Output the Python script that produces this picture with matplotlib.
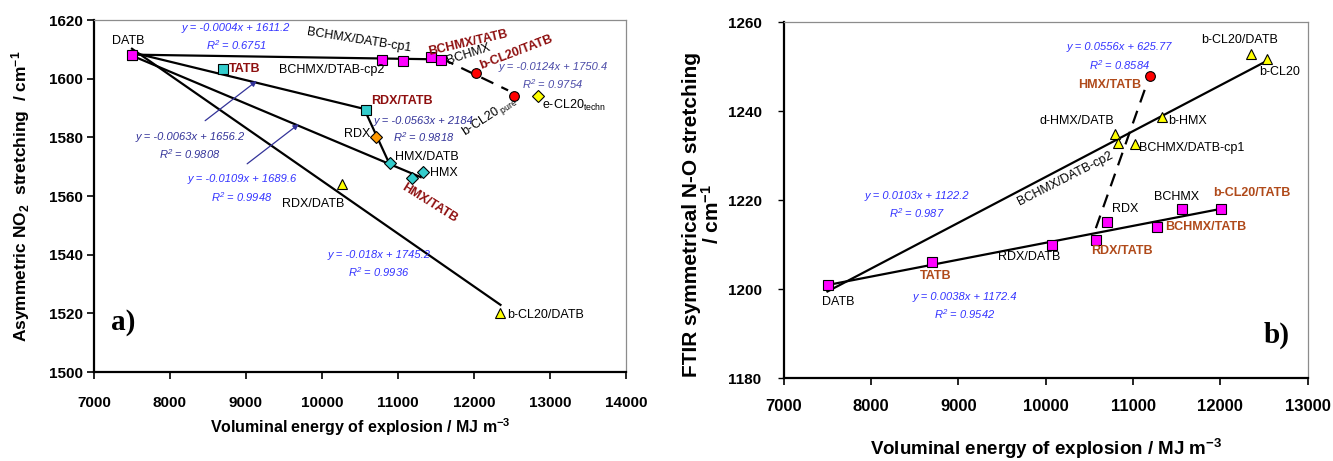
import numpy as np
import matplotlib
matplotlib.use('Agg')
import matplotlib.pyplot as plt

plt.rcParams['font.family'] = ['Liberation Sans', 'DejaVu Sans']
plt.rcParams['mathtext.default'] = 'regular'

# ---- panel a) : asymmetric NO2 stretching ----
a_mag_sq_x = [7500, 10790, 11070, 11440, 11570]
a_mag_sq_y = [1608.0, 1606.2, 1606.0, 1607.3, 1606.2]
a_cyan_sq_x = [8700, 10580]
a_cyan_sq_y = [1603.4, 1589.3]
a_cyan_dia_x = [10890, 11330, 11190]
a_cyan_dia_y = [1571.3, 1568.3, 1566.0]
a_orange_dia_x = [10710]
a_orange_dia_y = [1580.0]
a_yel_tri_x = [7500, 10270, 12350]
a_yel_tri_y = [1608.0, 1564.0, 1520.0]
a_red_x = [12030, 12530]
a_red_y = [1602.1, 1594.0]
a_yel_dia_x = [12850]
a_yel_dia_y = [1594.0]

# trend lines: y = slope*x + icpt, drawn between x0 and x1
a_slope = [-0.0004, -0.0063, -0.0109, -0.018, -0.0563, -0.0124]
a_icpt = [1611.2, 1656.2, 1689.6, 1745.2, 2184, 1750.4]
a_x0 = [7500, 7500, 7500, 7500, 10580, 11570]
a_x1 = [11570, 10580, 11300, 12350, 10890, 12450]
a_dashed = [False, False, False, False, False, True]

# ---- panel b) : symmetrical N-O stretching ----
b_sq_x = [7507, 8700, 10070, 10580, 10700, 11270, 11560, 12010]
b_sq_y = [1201.0, 1206.1, 1210.0, 1211.1, 1215.1, 1213.9, 1217.9, 1217.9]
b_tri_x = [12350, 12535, 11335, 10794, 10826, 11019]
b_tri_y = [1252.9, 1251.8, 1238.7, 1234.9, 1232.8, 1232.7]
b_red_x = [11194]
b_red_y = [1248.0]

b_slope = [0.0103, 0.0038, 0.0556]
b_icpt = [1122.2, 1172.4, 625.77]
b_x0 = [7500, 7500, 10574]
b_x1 = [12530, 12010, 11145]
b_dashed = [False, False, True]

DRED = '#8e0f0f'
BROWN = '#b04a1a'
BLUE = '#3333ff'
NAVY = '#333399'

fig = plt.figure(figsize=(13.33, 4.61), dpi=100)
ax1 = fig.add_axes([0.0705, 0.193, 0.399, 0.7636])
ax2 = fig.add_axes([0.588, 0.180, 0.393, 0.772])


def style_axes(ax):
    for s in ['left', 'bottom']:
        ax.spines[s].set_linewidth(1.6)
        ax.spines[s].set_color('black')
    for s in ['top', 'right']:
        ax.spines[s].set_linewidth(0.9)
        ax.spines[s].set_color('#8c8c8c')
    for lab in ax.get_xticklabels() + ax.get_yticklabels():
        lab.set_fontweight('bold')


def fit_lines(ax, slope, icpt, x0, x1, dashed):
    for k, d, a, b, ds in zip(slope, icpt, x0, x1, dashed):
        xs = np.array([a, b])
        ls = (0, (6, 4)) if ds else '-'
        ax.plot(xs, k * xs + d, color='black', lw=1.6, ls=ls, zorder=2)


mk = dict(ls='none', mec='black', mew=0.8, zorder=3)

# ---------- panel a ----------
fit_lines(ax1, a_slope, a_icpt, a_x0, a_x1, a_dashed)
ax1.plot(a_yel_tri_x, a_yel_tri_y, marker='^', ms=7, mfc='#ffff00', **mk)
ax1.plot(a_mag_sq_x, a_mag_sq_y, marker='s', ms=7, mfc='#ff00ff', **mk)
ax1.plot(a_cyan_sq_x, a_cyan_sq_y, marker='s', ms=7, mfc='#33cccc', **mk)
ax1.plot(a_cyan_dia_x, a_cyan_dia_y, marker='D', ms=6, mfc='#33cccc', **mk)
ax1.plot(a_orange_dia_x, a_orange_dia_y, marker='D', ms=6, mfc='#ff9900', **mk)
ax1.plot(a_red_x, a_red_y, marker='o', ms=7, mfc='#ff0000', **mk)
ax1.plot(a_yel_dia_x, a_yel_dia_y, marker='D', ms=6, mfc='#ffff00', **mk)

ax1.set_xlim(7000, 14000)
ax1.set_ylim(1500, 1620)
ax1.set_xticks(np.arange(7000, 14001, 1000))
ax1.set_yticks(np.arange(1500, 1621, 20))
ax1.tick_params(axis='x', direction='out', length=5, width=1.2, pad=12, labelsize=11)
ax1.tick_params(axis='y', direction='out', length=5, width=1.2, pad=3, labelsize=11)
style_axes(ax1)
ax1.set_xlabel('Voluminal energy of explosion / MJ m$^{-3}$', fontsize=11.5, fontweight='bold')
ax1.xaxis.set_label_coords(0.5, -0.158)
ax1.xaxis.label.set_va('center')
ax1.set_ylabel('Asymmetric NO$_{2}$  stretching  / cm$^{-1}$', fontsize=12.5, fontweight='bold')
ax1.yaxis.set_label_coords(-0.138, 0.5)
ax1.yaxis.label.set_va('center')

t = dict(fontsize=9, ha='center', va='center')
tb = dict(fontsize=9, fontweight='bold', color=DRED, va='center')
eq = dict(fontsize=8, style='italic', ha='center', va='center')

ax1.text(7447, 1612.7, 'DATB', **t)
ax1.text(8868, 1617.4, 'y = -0.0004x + 1611.2', color=BLUE, **eq)
ax1.text(8868, 1611.6, 'R$^{2}$ = 0.6751', color=BLUE, **eq)
ax1.text(10487, 1613.0, 'BCHMX/DATB-cp1', rotation=-9, **t)
ax1.text(10132, 1602.8, 'BCHMX/DTAB-cp2', **t)
ax1.text(8776, 1603.4, 'TATB', ha='left', **tb)
ax1.text(11921, 1612.3, 'BCHMX/TATB', ha='center', rotation=13, **tb)
ax1.text(11930, 1608.4, 'BCHMX', rotation=18, **t)
ax1.text(12553, 1609.0, 'b-CL20/TATB', ha='center', rotation=21, **tb)
ax1.text(13039, 1604.1, 'y = -0.0124x + 1750.4', color='#4b4ba8', **eq)
ax1.text(13039, 1598.0, 'R$^{2}$ = 0.9754', color='#4b4ba8', **eq)
ax1.text(12211, 1587.0, 'b-CL20$_{\\ pure}$', rotation=33, **t)
ax1.text(12895, 1590.8, 'e-CL20$_{techn}$', fontsize=9, ha='left', va='center')
ax1.text(10645, 1592.5, 'RDX/TATB', ha='left', **tb)
ax1.text(11342, 1585.7, 'y = -0.0563x + 2184', color=NAVY, **eq)
ax1.text(11342, 1580.2, 'R$^{2}$ = 0.9818', color=NAVY, **eq)
ax1.text(10632, 1581.3, 'RDX', fontsize=9, ha='right', va='center')
ax1.text(10961, 1573.4, 'HMX/DATB', fontsize=9, ha='left', va='center')
ax1.text(11421, 1568.0, 'HMX', fontsize=9, ha='left', va='center')
ax1.text(11421, 1557.7, 'HMX/TATB', ha='center', rotation=-32, **tb)
ax1.text(8263, 1580.2, 'y = -0.0063x + 1656.2', color=NAVY, **eq)
ax1.text(8263, 1574.4, 'R$^{2}$ = 0.9808', color=NAVY, **eq)
ax1.text(8947, 1565.9, 'y = -0.0109x + 1689.6', color=BLUE, **eq)
ax1.text(8947, 1559.8, 'R$^{2}$ = 0.9948', color=BLUE, **eq)
ax1.text(9882, 1557.4, 'RDX/DATB', **t)
ax1.text(10750, 1540.0, 'y = -0.018x + 1745.2', color=BLUE, **eq)
ax1.text(10750, 1534.2, 'R$^{2}$ = 0.9936', color=BLUE, **eq)
ax1.text(12434, 1519.5, 'b-CL20/DATB', fontsize=9, ha='left', va='center')
ax1.text(7382, 1517, 'a)', fontsize=21, fontweight='bold', family='Liberation Serif',
         ha='center', va='center')

arr = dict(arrowstyle='-|>', color=NAVY, lw=0.9, mutation_scale=8)
ax1.annotate('', xy=(9171, 1599.8), xytext=(8434, 1585.1), arrowprops=arr)
ax1.annotate('', xy=(9724, 1585.1), xytext=(8987, 1570.4), arrowprops=arr)

# ---------- panel b ----------
fit_lines(ax2, b_slope, b_icpt, b_x0, b_x1, b_dashed)
ax2.plot(b_sq_x, b_sq_y, marker='s', ms=7.5, mfc='#ff00ff', **mk)
ax2.plot(b_tri_x, b_tri_y, marker='^', ms=7.5, mfc='#ffff00', **mk)
ax2.plot(b_red_x, b_red_y, marker='o', ms=7, mfc='#ff0000', **mk)

ax2.set_xlim(7000, 13000)
ax2.set_ylim(1180, 1260)
ax2.set_xticks(np.arange(7000, 13001, 1000))
ax2.set_yticks(np.arange(1180, 1261, 20))
ax2.tick_params(axis='x', direction='out', length=5, width=1.2, pad=10, labelsize=12)
ax2.tick_params(axis='y', direction='out', length=4, width=1.0, pad=12, labelsize=11)
style_axes(ax2)
ax2.set_xlabel('Voluminal energy of explosion / MJ m$^{-3}$', fontsize=13.5, fontweight='bold')
ax2.xaxis.set_label_coords(0.5, -0.2)
ax2.xaxis.label.set_va('center')
ax2.set_ylabel('FTIR symmetrical N-O stretching\n/ cm$^{-1}$', fontsize=15, fontweight='bold',
               linespacing=1.0)
ax2.yaxis.set_label_coords(-0.155, 0.46)
ax2.yaxis.label.set_va('center')

tr = dict(fontsize=9, fontweight='bold', color=BROWN, va='center')
ax2.text(7629, 1197.0, 'DATB', **t)
ax2.text(8737, 1202.9, 'TATB', ha='center', **tr)
ax2.text(9812, 1207.1, 'RDX/DATB', **t)
ax2.text(10875, 1208.5, 'RDX/TATB', ha='center', **tr)
ax2.text(10909, 1217.9, 'RDX', **t)
ax2.text(11366, 1213.9, 'BCHMX/TATB', ha='left', **tr)
ax2.text(11503, 1220.6, 'BCHMX', **t)
ax2.text(12361, 1221.5, 'b-CL20/TATB', ha='center', **tr)
ax2.text(12224, 1255.9, 'b-CL20/DATB', **t)
ax2.text(12681, 1248.9, 'b-CL20', **t)
ax2.text(11400, 1237.7, 'b-HMX', fontsize=9, ha='left', va='center')
ax2.text(10360, 1237.7, 'd-HMX/DATB', **t)
ax2.text(10223, 1224.9, 'BCHMX/DATB-cp2', rotation=27, **t)
ax2.text(11069, 1231.6, 'BCHMX/DATB-cp1', fontsize=9, ha='left', va='center')
ax2.text(10738, 1245.8, 'HMX/TATB', ha='center', **tr)
ax2.text(10840, 1254.3, 'y = 0.0556x + 625.77', color=BLUE, **eq)
ax2.text(10840, 1250.3, 'R$^{2}$ = 0.8584', color=BLUE, **eq)
ax2.text(8520, 1221.0, 'y = 0.0103x + 1122.2', color=BLUE, **eq)
ax2.text(8520, 1217.0, 'R$^{2}$ = 0.987', color=BLUE, **eq)
ax2.text(9069, 1198.1, 'y = 0.0038x + 1172.4', color=BLUE, **eq)
ax2.text(9069, 1194.3, 'R$^{2}$ = 0.9542', color=BLUE, **eq)
ax2.text(12646, 1189.6, 'b)', fontsize=21, fontweight='bold', family='Liberation Serif',
         ha='center', va='center')

fig.savefig('out.png', dpi=100)
